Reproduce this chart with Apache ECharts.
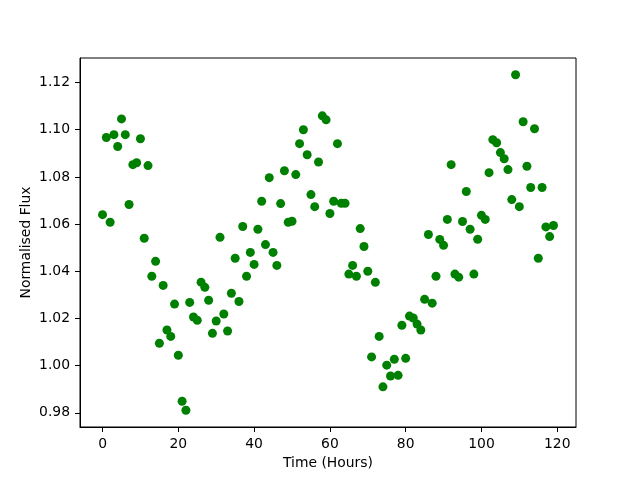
<!DOCTYPE html>
<html>
<head>
<meta charset="utf-8">
<script src="https://cdn.jsdelivr.net/npm/echarts@6/dist/echarts.min.js"></script>
<style>
  html, body { margin: 0; padding: 0; background: #fff; }
  #chart { width: 640px; height: 480px; }
</style>
</head>
<body>
<div id="chart"></div>
<script>
// time in hours, one reading per hour
const hours = []
for (let i = 0; i < 120; i++) hours.push(i)

// normalised flux
const flux = [
  1.0640, 1.0967, 1.0608, 1.0979, 1.0929, 1.1046, 1.0979, 1.0683, 1.0852, 1.0860,
  1.0962, 1.0540, 1.0848, 1.0379, 1.0442, 1.0095, 1.0340, 1.0151, 1.0124, 1.0261,
  1.0044, 0.9849, 0.9811, 1.0268, 1.0206, 1.0192, 1.0354, 1.0332, 1.0277, 1.0137,
  1.0189, 1.0544, 1.0219, 1.0147, 1.0307, 1.0455, 1.0272, 1.0590, 1.0379, 1.0480,
  1.0429, 1.0578, 1.0697, 1.0513, 1.0797, 1.0480, 1.0425, 1.0687, 1.0826, 1.0608,
  1.0612, 1.0810, 1.0941, 1.1000, 1.0894, 1.0725, 1.0674, 1.0863, 1.1059, 1.1042,
  1.0645, 1.0697, 1.0941, 1.0688, 1.0688, 1.0388, 1.0425, 1.0379, 1.0581, 1.0505,
  1.0400, 1.0037, 1.0353, 1.0124, 0.9910, 1.0002, 0.9956, 1.0027, 0.9959, 1.0171,
  1.0031, 1.0210, 1.0202, 1.0176, 1.0151, 1.0281, 1.0556, 1.0265, 1.0379, 1.0535,
  1.0510, 1.0620, 1.0852, 1.0388, 1.0375, 1.0611, 1.0738, 1.0578, 1.0388, 1.0536,
  1.0637, 1.0620, 1.0818, 1.0958, 1.0945, 1.0903, 1.0877, 1.0831, 1.0704, 1.1233,
  1.0674, 1.1034, 1.0845, 1.0755, 1.1004, 1.0455, 1.0755, 1.0588, 1.0547, 1.0594
]

const xTicks = [0, 20, 40, 60, 80, 100, 120]
const yTicks = [0.98, 1.00, 1.02, 1.04, 1.06, 1.08, 1.10, 1.12]

const points = hours.map((h, i) => [h, flux[i]])

// matplotlib style 5% margins around the data
const xMin = Math.min(...hours), xMax = Math.max(...hours)
const yMin = Math.min(...flux), yMax = Math.max(...flux)
const xPad = (xMax - xMin) * 0.05
const yPad = (yMax - yMin) * 0.05

const font = 'DejaVu Sans'

const chart = echarts.init(document.getElementById('chart'))
chart.setOption({
  animation: false,
  grid: {
    left: 80,
    right: 64,
    top: 58,
    bottom: 53,
    show: true,
    borderColor: '#000',
    borderWidth: 1
  },
  xAxis: {
    type: 'value',
    min: xMin - xPad,
    max: xMax + xPad,
    name: 'Time (Hours)',
    nameLocation: 'middle',
    nameGap: 29,
    nameMoveOverlap: false,
    nameTextStyle: { color: '#000', fontFamily: font, fontSize: 13.9 },
    axisLine: { show: true, onZero: false, lineStyle: { color: '#000', width: 1 } },
    axisTick: { show: true, length: 5, customValues: xTicks, lineStyle: { color: '#000' } },
    axisLabel: {
      customValues: xTicks,
      margin: 10,
      color: '#000',
      fontFamily: font,
      fontSize: 13.9
    },
    splitLine: { show: false }
  },
  yAxis: {
    type: 'value',
    min: yMin - yPad,
    max: yMax + yPad,
    name: 'Normalised Flux',
    nameLocation: 'middle',
    nameGap: 47,
    nameMoveOverlap: false,
    nameTextStyle: { color: '#000', fontFamily: font, fontSize: 13.9 },
    axisLine: { show: true, onZero: false, lineStyle: { color: '#000', width: 1 } },
    axisTick: { show: true, length: 5, customValues: yTicks, lineStyle: { color: '#000' } },
    axisLabel: {
      customValues: yTicks,
      margin: 10,
      color: '#000',
      fontFamily: font,
      fontSize: 13.9,
      formatter: v => v.toFixed(2)
    },
    splitLine: { show: false }
  },
  series: [
    {
      type: 'scatter',
      data: points,
      symbol: 'circle',
      symbolSize: 9,
      itemStyle: { color: '#008000', opacity: 1 }
    }
  ]
})
</script>
</body>
</html>
